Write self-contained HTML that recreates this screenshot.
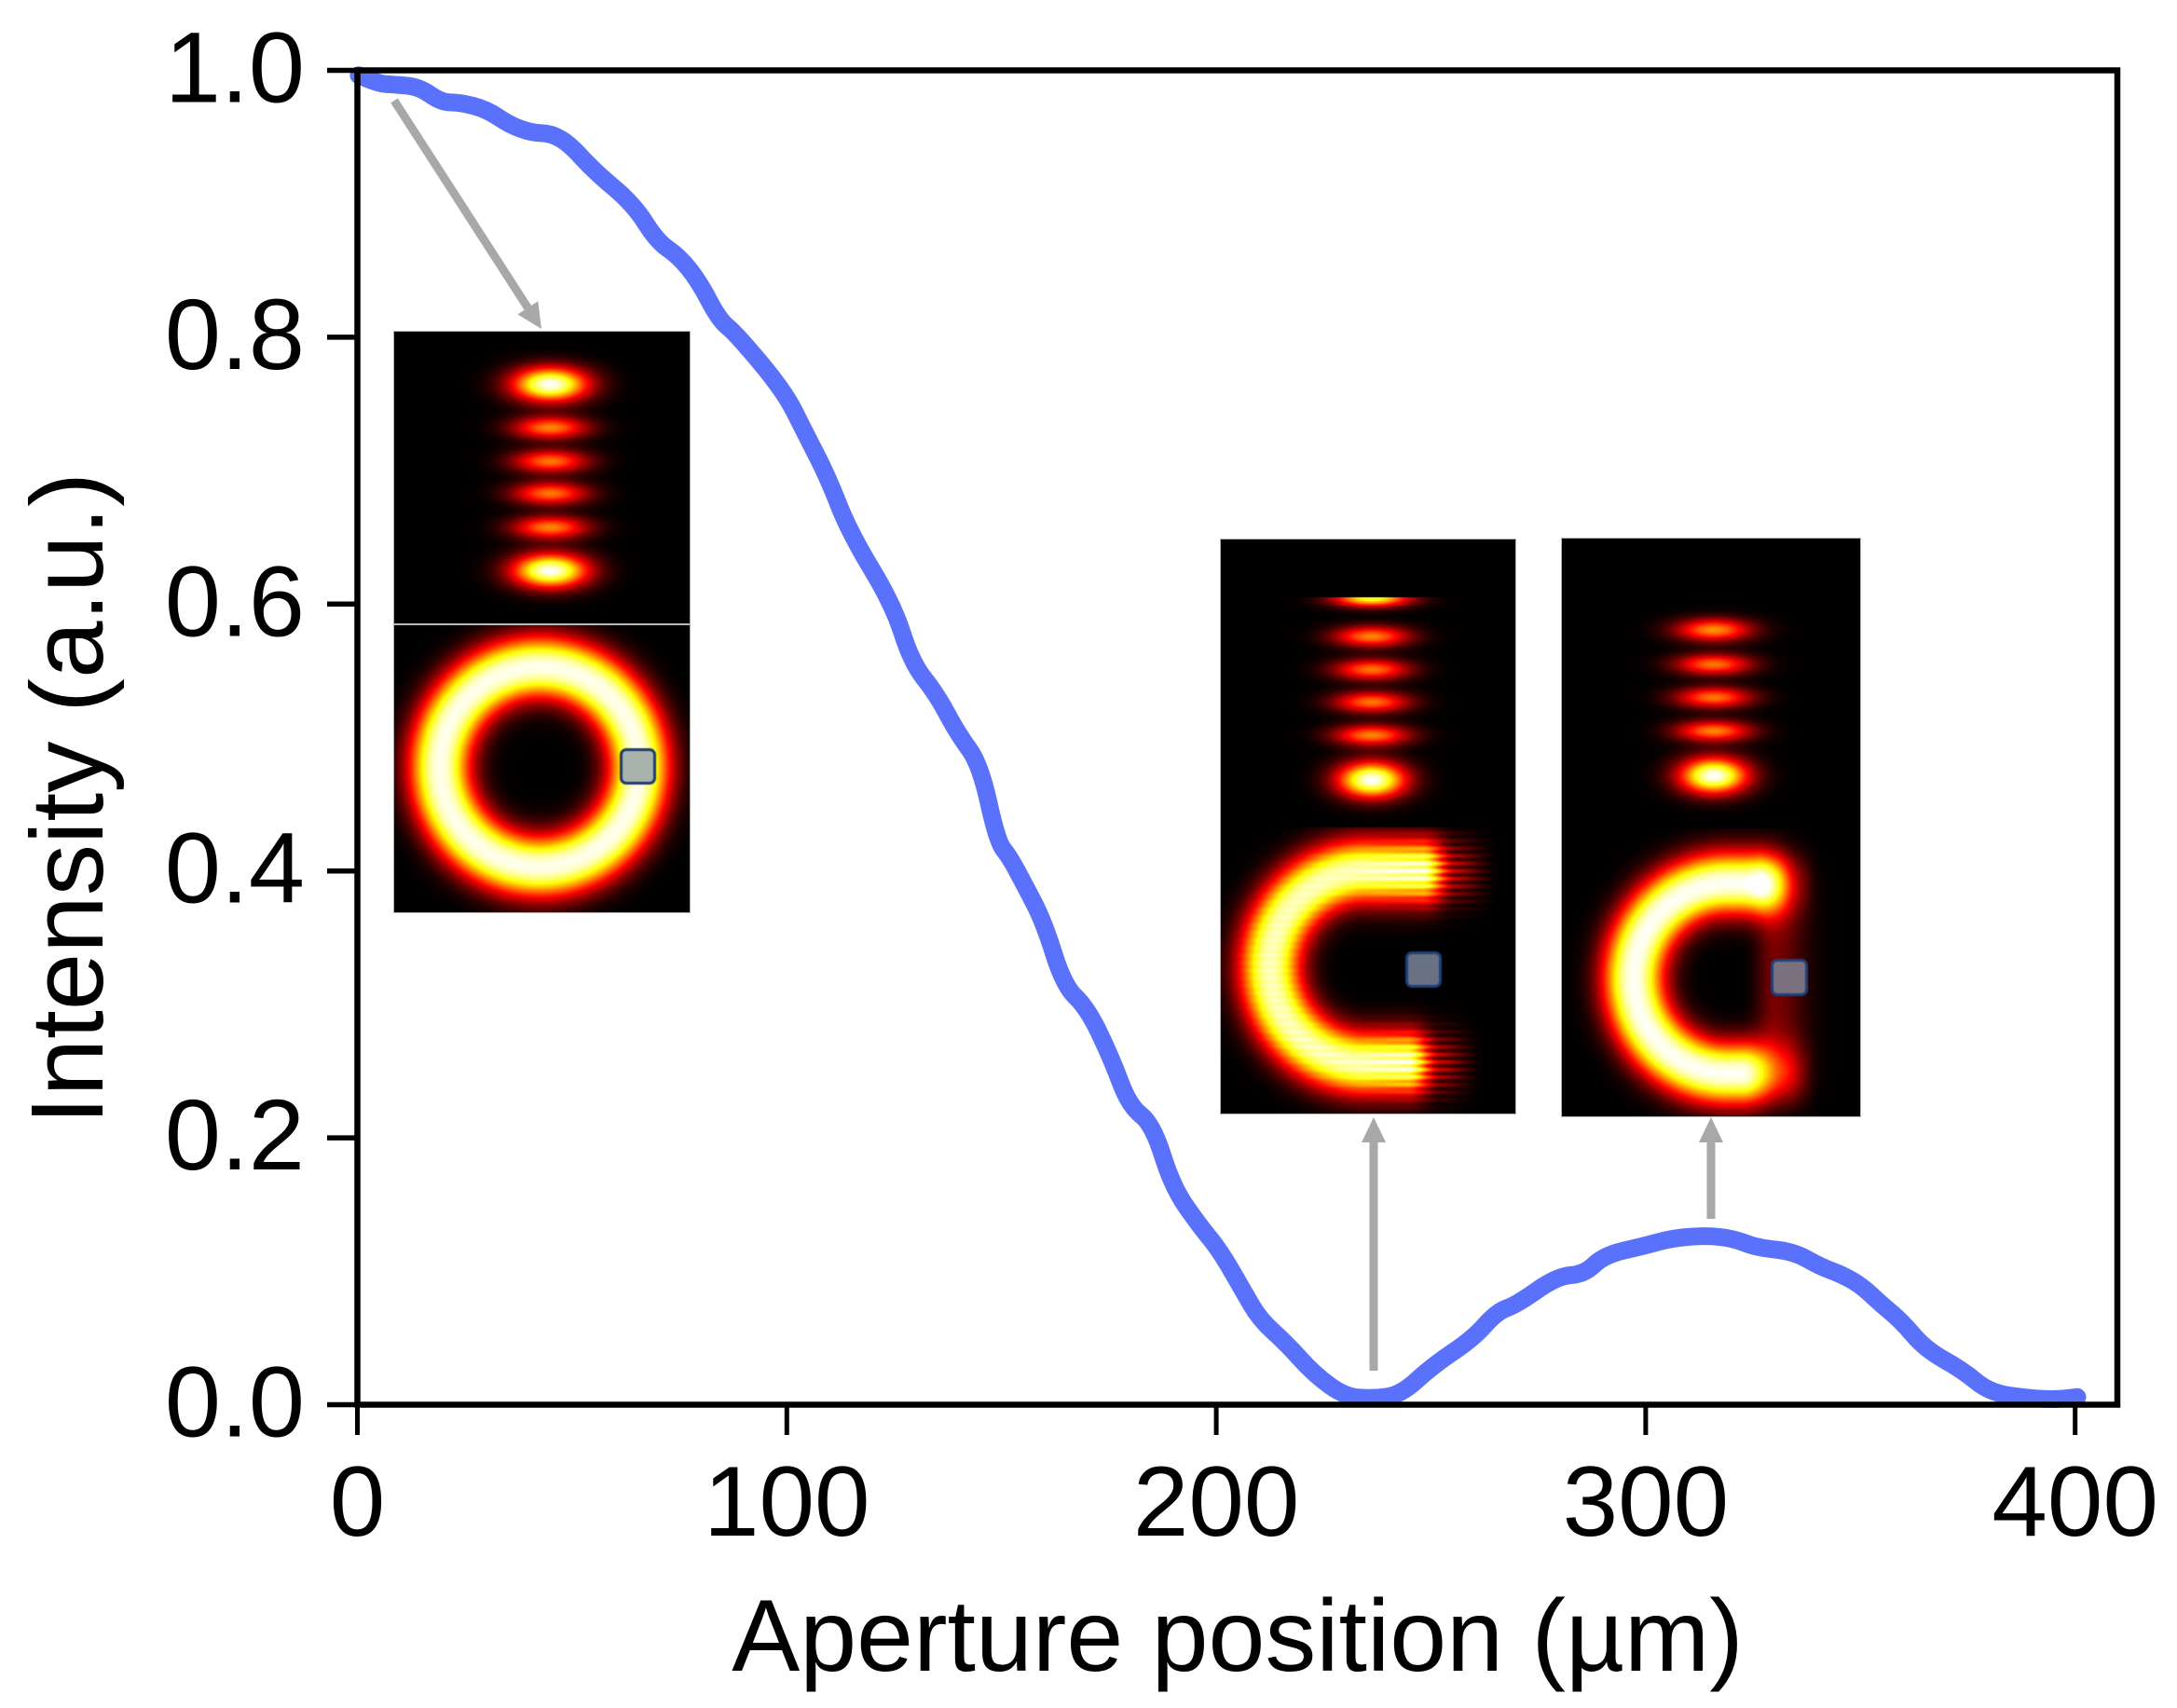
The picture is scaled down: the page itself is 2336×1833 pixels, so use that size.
<!DOCTYPE html>
<html lang="en">
<head>
<meta charset="utf-8">
<title>Intensity vs aperture position</title>
<style>
  html, body { margin: 0; padding: 0; background: #fff; }
  #page { position: relative; width: 2336px; height: 1833px; overflow: hidden; background: #fff; }
  #chart { position: absolute; left: 0; top: 0; }
  text { font-family: "Liberation Sans", Arial, sans-serif; fill: #000; }
  canvas.panel { position: absolute; display: block; box-shadow: 0 0 0 1px #b0b0b0; }
  .marker { position: absolute; box-sizing: border-box; border-radius: 7px; border: 3px solid #1d3a70; filter: blur(0.6px); }
  .divider { position: absolute; height: 2px; background: #b9b9b9; }
</style>
</head>
<body>
<div id="page">
  <svg id="chart" width="2336" height="1833" viewBox="0 0 2336 1833">
    <g id="series-layer"></g>
    <g id="axes-layer"></g>
    <g id="arrow-layer"></g>
    <text x="1328" y="1793" font-size="109.5" text-anchor="middle">Aperture position (µm)</text>
    <text transform="translate(110 857) rotate(-90)" font-size="110.5" text-anchor="middle">Intensity (a.u.)</text>
  </svg>

  <canvas class="panel" id="panel-a" width="317" height="623" style="left:423px;top:356px"></canvas>
  <div class="divider" style="left:423px;top:669px;width:317px"></div>
  <div class="marker" style="left:665px;top:803px;width:39px;height:39px;background:#a9b3ad"></div>

  <canvas class="panel" id="panel-b" width="316" height="616" style="left:1310px;top:579px"></canvas>
  <div class="marker" style="left:1508px;top:1021px;width:39px;height:39px;background:#687283;border-color:#1f3f78"></div>

  <canvas class="panel" id="panel-c" width="320" height="620" style="left:1676px;top:578px"></canvas>
  <div class="marker" style="left:1900px;top:1029px;width:40px;height:40px;background:#7a707f;border-color:#1f3f78"></div>
</div>

<script>
// ---- chart data ----
const apertureUm = [0.3,4.7,8.6,14.4,19.5,23.8,30.0,35.4,40.5,45.2,49.5,54.9,64.3,69.8,74.8,79.5,84.2,88.2,99.4,104.1,109.5,114.6,124.7,129.1,134.9,139.9,145.0,149.0,151.9,155.1,159.8,164.5,170.0,175.7,179.7,185.2,189.8,196.0,200.7,206.1,210.1,216.3,222.8,230.0,236.5,243.0,250.3,259.7,265.3,270.0,279.4,285.7,290.4,299.8,306.1,313.9,320.3,325.8,334.4,340.7,345.5,350.2,354.9,359.6,365.1,373.8,380.1,389.5,395.7,400.5];
const intensity = [0.9964,0.990,0.9894,0.9877,0.976,0.976,0.9709,0.9592,0.9532,0.9527,0.9445,0.9252,0.8997,0.8717,0.8608,0.8421,0.8131,0.8026,0.7595,0.7293,0.6955,0.6536,0.6001,0.5558,0.5325,0.5023,0.4802,0.422,0.4103,0.3912,0.3622,0.314,0.2972,0.2588,0.2241,0.2103,0.1633,0.1345,0.1163,0.0863,0.064,0.046,0.0228,0.006,0.0046,0.0074,0.029,0.0493,0.0696,0.0751,0.0964,0.0978,0.1122,0.1191,0.1247,0.1268,0.1247,0.1177,0.1149,0.1034,0.0978,0.0893,0.0751,0.0626,0.0416,0.0259,0.009,0.0047,0.0039,0.0057];
const xTickValues = [0,100,200,300,400];
const xTickLabels = ["0","100","200","300","400"];
const yTickValues = [0,0.2,0.4,0.6,0.8,1.0];
const yTickLabels = ["0.0","0.2","0.4","0.6","0.8","1.0"];

const plotLeft = 383.5, plotTop = 75.5, plotRight = 2272, plotBottom = 1507.5;
function xScale(v) { return plotLeft + v * (2226.7 - plotLeft) / 400; }
function yScale(v) { return plotBottom - v * (plotBottom - plotTop); }

const svgNS = "http://www.w3.org/2000/svg";
function mk(tag, parent, attrs) {
  const el = document.createElementNS(svgNS, tag);
  for (const k in attrs) el.setAttribute(k, attrs[k]);
  parent.appendChild(el);
  return el;
}

// series: rounded polyline through the data points
const seriesLayer = document.getElementById("series-layer");
let curvePath = "M" + xScale(apertureUm[0]).toFixed(1) + " " + yScale(intensity[0]).toFixed(1);
for (let i = 1; i < apertureUm.length - 1; i++) {
  const px = xScale(apertureUm[i]), py = yScale(intensity[i]);
  const nx = xScale(apertureUm[i + 1]), ny = yScale(intensity[i + 1]);
  const mx = px + (nx - px) * 0.5, my = py + (ny - py) * 0.5;
  curvePath += " Q" + px.toFixed(1) + " " + py.toFixed(1) + " " + mx.toFixed(1) + " " + my.toFixed(1);
}
const lastIdx = apertureUm.length - 1;
curvePath += " L" + xScale(apertureUm[lastIdx]).toFixed(1) + " " + yScale(intensity[lastIdx]).toFixed(1);
const curve = mk("path", seriesLayer, { d: curvePath, fill: "none", stroke: "#5a71fb", "stroke-width": 19, "stroke-linejoin": "round", "stroke-linecap": "round" });



// axes
const axesLayer = document.getElementById("axes-layer");
const frame = mk("rect", axesLayer, { x: plotLeft, y: plotTop, width: plotRight - plotLeft, height: plotBottom - plotTop, fill: "none", stroke: "#000", "stroke-width": 6.5 });



xTickValues.forEach((v, i) => {
  const x = xScale(v);
  const tick = mk("line", axesLayer, { x1: x, x2: x, y1: plotBottom, y2: 1540, stroke: "#000", "stroke-width": 5 });
  
  
  const label = mk("text", axesLayer, { x: x, y: 1648, "font-size": 107, "text-anchor": "middle" });
  label.textContent = xTickLabels[i];
  
  
});
yTickValues.forEach((v, i) => {
  const y = yScale(v);
  const tick = mk("line", axesLayer, { x1: 351, x2: plotLeft, y1: y, y2: y, stroke: "#000", "stroke-width": 5.5 });
  
  
  const label = mk("text", axesLayer, { x: 327, y: y + 34, "font-size": 108, "text-anchor": "end" });
  label.textContent = yTickLabels[i];
  
  
});

// arrows
const arrowLayer = document.getElementById("arrow-layer");
function arrow(x1, y1, x2, y2, name) {
  const dx = x2 - x1, dy = y2 - y1, len = Math.hypot(dx, dy), ux = dx / len, uy = dy / len;
  const headL = 27, headW = 13;
  const bx = x2 - ux * headL, by = y2 - uy * headL;
  const shaft = mk("line", arrowLayer, { x1: x1, y1: y1, x2: bx, y2: by, stroke: "#a8a8a8", "stroke-width": 9 });
  
  
  const pts = [x2, y2, bx - uy * headW, by + ux * headW, bx + uy * headW, by - ux * headW].join(" ");
  const head = mk("polygon", arrowLayer, { points: pts, fill: "#a8a8a8" });
  
  
}
arrow(423, 108, 581, 353, "arrow-start");
arrow(1474, 1471, 1474, 1199, "arrow-minimum");
arrow(1836, 1308, 1836, 1199, "arrow-secondary-peak");

// ---- inset beam profiles (hot colormap, drawn per pixel) ----
function clamp01(v) { return v < 0 ? 0 : v > 1 ? 1 : v; }
function sstep(a, b, x) { const t = clamp01((x - a) / (b - a)); return t * t * (3 - 2 * t); }
function gauss(d, s) { return Math.exp(-(d * d) / (s * s)); }
function flatGauss(d, s) { return Math.exp(-Math.pow(Math.abs(d) / s, 2.2)); }
function lobes(x, y, cx, list) {
  let v = 0;
  for (const l of list) v += l[1] * gauss(x - cx, l[2]) * gauss(y - l[0], l[3]);
  return v;
}
function paint(id, ox, oy, fn) {
  const c = document.getElementById(id), ctx = c.getContext("2d");
  const img = ctx.createImageData(c.width, c.height), d = img.data;
  for (let j = 0; j < c.height; j++) for (let i = 0; i < c.width; i++) {
    const v = fn(ox + i + 0.5, oy + j + 0.5), k = (j * c.width + i) * 4;
    d[k] = 255 * clamp01(v / 0.365);
    d[k + 1] = 255 * clamp01((v - 0.365) / 0.381);
    d[k + 2] = 255 * clamp01((v - 0.746) / 0.254);
    d[k + 3] = 255;
  }
  ctx.putImageData(img, 0, 0);
}

const lobesA = [[412.5,1.0,40,18],[459,.56,40,12],[495,.54,40,12],[529.5,.54,40,12],[566,.56,40,12],[612.5,1.0,40,18]];
paint("panel-a", 423, 356, (x, y) => {
  if (y < 670) return lobes(x, y, 590.5, lobesA);
  const r = Math.hypot(x - 579, y - 823);
  return 0.98 * flatGauss(r - 107, 33.5);
});

const lobesB = [[683,.56,40,11],[718.5,.54,40,11],[753.5,.54,40,11],[789,.56,40,11],[837,1.0,36,19]];
paint("panel-b", 1310, 579, (x, y) => {
  if (y < 888) {
    if (y < 641.5) return 0;
    return lobes(x, y, 1472, lobesB) + 0.8 * gauss(x - 1472, 40) * gauss(y - 642, 9);
  }
  const cx = 1466, cy = 1038, R = 103;
  const d = x <= cx ? Math.hypot(x - cx, y - cy) - R : Math.min(Math.abs(y - (cy - R)), Math.abs(y - (cy + R)));
  const armEnd = y < cy ? 1542 : 1526;
  const fade = 1 - sstep(armEnd - 16, armEnd + 20, x);
  const stripe = 0.5 + 0.5 * Math.cos(2 * Math.PI * y / 8.2);
  const base = 0.93 * flatGauss(d, 34);
  const tail = (0.12 + 0.26 * stripe) * (1 - sstep(armEnd + 8, armEnd + 70, x));
  const ripple = 1 + 0.1 * (stripe - 0.5) * (0.4 + sstep(cx - 20, armEnd, x) * 2);
  return base * (fade * ripple + (1 - fade) * tail);
});

const lobesC = [[676,.58,40,12],[713,.54,40,11],[748.5,.54,40,11],[784.5,.56,40,11],[832.5,1.0,36,19]];
paint("panel-c", 1676, 578, (x, y) => {
  if (y < 889) return lobes(x, y, 1839, lobesC);
  const cx = 1855, cy = 1050, R = 102;
  const d = x <= cx ? Math.hypot(x - cx, y - cy) - R : Math.min(Math.abs(y - (cy - R)), Math.abs(y - (cy + R)));
  const armEnd = y < cy ? 1903 : 1887;
  const fade = 1 - sstep(armEnd - 18, armEnd + 26, x);
  const ring = 0.99 * flatGauss(d, 33.5);
  const tail = 0.32 * (1 - sstep(1905, 1955, x));
  const dy = Math.abs(y - cy);
  const haze = 0.17 * gauss(x - 1905, 32) * (1 - sstep(95, 150, dy)) * sstep(1862, 1905, x);
  return ring * fade + ring * (1 - fade) * tail + haze;
});
</script>
</body>
</html>
